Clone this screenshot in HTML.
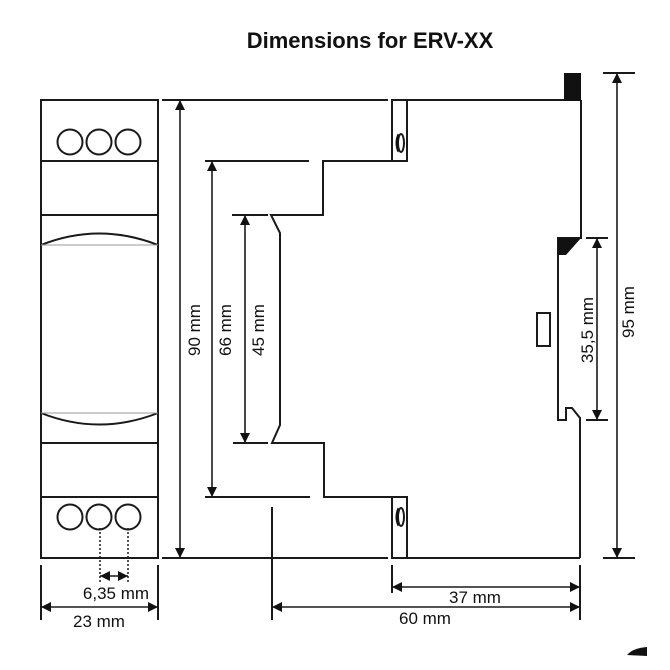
<!DOCTYPE html>
<html><head><style>html,body{margin:0;padding:0;background:#fff}svg{display:block}</style></head>
<body>
<svg width="670" height="670" viewBox="0 0 670 670" xmlns="http://www.w3.org/2000/svg" font-family="Liberation Sans, sans-serif">
<defs>
<marker id="a" viewBox="0 0 10 10" refX="10" refY="5" markerWidth="10" markerHeight="10" markerUnits="userSpaceOnUse" orient="auto-start-reverse"><path d="M0,0 L10,5 L0,10 z" fill="#111"/></marker>
</defs>
<text x="370" y="48" text-anchor="middle" font-size="22" font-weight="bold" fill="#111">Dimensions for ERV-XX</text>
<g stroke="#1a1a1a" stroke-width="2" fill="none">
<rect x="41" y="100" width="117" height="458"/>
<line x1="41" y1="161" x2="158" y2="161"/>
<line x1="41" y1="215" x2="158" y2="215"/>
<path d="M41,245 Q99,222 158,245"/>
<line x1="41" y1="245" x2="158" y2="245" stroke="#999" stroke-width="1"/>
<path d="M41,413 Q99,436 158,413"/>
<line x1="41" y1="413" x2="158" y2="413" stroke="#999" stroke-width="1"/>
<line x1="41" y1="443" x2="158" y2="443"/>
<line x1="41" y1="497" x2="158" y2="497"/>
<circle cx="70" cy="142" r="12.5"/><circle cx="99" cy="142" r="12.5"/><circle cx="128" cy="142" r="12.5"/>
<circle cx="70" cy="517" r="12.5"/><circle cx="99" cy="517" r="12.5"/><circle cx="128" cy="517" r="12.5"/>
<line x1="162" y1="100" x2="388" y2="100"/>
<line x1="392" y1="100" x2="566" y2="100"/>
<line x1="162" y1="558" x2="388" y2="558"/>
<line x1="392" y1="558" x2="580" y2="558"/>
<rect x="392" y="100" width="15" height="61"/>
<rect x="392" y="497" width="15" height="61"/>
<ellipse cx="401" cy="143" rx="3" ry="9"/><ellipse cx="401" cy="517" rx="3" ry="9"/>
<path d="M392,161 H323 V215 H271 L280,233 V425 L272,443 H324 V497 H392"/>
<path d="M581,100 V238 H558 V420 H566 V408 H572 L580,418 V558"/>
<rect x="537" y="313" width="13" height="33"/>
<line x1="180" y1="100" x2="180" y2="558" marker-start="url(#a)" marker-end="url(#a)" stroke-width="1.6"/>
<line x1="205" y1="161" x2="309" y2="161"/><line x1="205" y1="497" x2="310" y2="497"/>
<line x1="212" y1="161" x2="212" y2="497" marker-start="url(#a)" marker-end="url(#a)" stroke-width="1.6"/>
<line x1="232" y1="215" x2="268" y2="215"/><line x1="233" y1="443" x2="268" y2="443"/>
<line x1="245" y1="215" x2="245" y2="443" marker-start="url(#a)" marker-end="url(#a)" stroke-width="1.6"/>
<line x1="272" y1="507" x2="272" y2="620"/>
<line x1="603" y1="73" x2="635" y2="73"/><line x1="603" y1="558" x2="635" y2="558"/>
<line x1="617" y1="73" x2="617" y2="558" marker-start="url(#a)" marker-end="url(#a)" stroke-width="1.6"/>
<line x1="586" y1="238" x2="608" y2="238"/><line x1="586" y1="420" x2="608" y2="420"/>
<line x1="597" y1="238" x2="597" y2="420" marker-start="url(#a)" marker-end="url(#a)" stroke-width="1.6"/>
<line x1="41" y1="565" x2="41" y2="620"/><line x1="158" y1="565" x2="158" y2="620"/>
<line x1="41" y1="607" x2="158" y2="607" marker-start="url(#a)" marker-end="url(#a)" stroke-width="1.6"/>
<line x1="100" y1="528" x2="100" y2="583" stroke-dasharray="2,2" stroke-width="1.5"/>
<line x1="128" y1="528" x2="128" y2="583" stroke-dasharray="2,2" stroke-width="1.5"/>
<line x1="100" y1="576" x2="128" y2="576" marker-start="url(#a)" marker-end="url(#a)" stroke-width="1.6"/>
<line x1="392" y1="565" x2="392" y2="593"/><line x1="580" y1="565" x2="580" y2="620"/>
<line x1="392" y1="587" x2="580" y2="587" marker-start="url(#a)" marker-end="url(#a)" stroke-width="1.6"/>
<line x1="272" y1="607" x2="580" y2="607" marker-start="url(#a)" marker-end="url(#a)" stroke-width="1.6"/>
</g>
<path d="M398,134 Q394,143 398,152 Z M398,508 Q394,517 398,526 Z" fill="#111" stroke="#111" stroke-width="1"/>
<rect x="564" y="73" width="17" height="28" fill="#111"/>
<path d="M558,238 H581 L566,255 H558 Z" fill="#111"/>
<path d="M627,655 Q633,648 647,647 L647,656 Z" fill="#111"/>
<g font-size="17" fill="#111" text-anchor="middle">
<text transform="translate(200,330) rotate(-90)">90 mm</text>
<text transform="translate(231,330) rotate(-90)">66 mm</text>
<text transform="translate(264,330) rotate(-90)">45 mm</text>
<text transform="translate(593,330) rotate(-90)">35,5 mm</text>
<text transform="translate(634,312) rotate(-90)">95 mm</text>
<text x="116" y="599">6,35 mm</text>
<text x="99" y="627">23 mm</text>
<text x="475" y="603">37 mm</text>
<text x="425" y="624">60 mm</text>
</g>
</svg>
</body></html>
